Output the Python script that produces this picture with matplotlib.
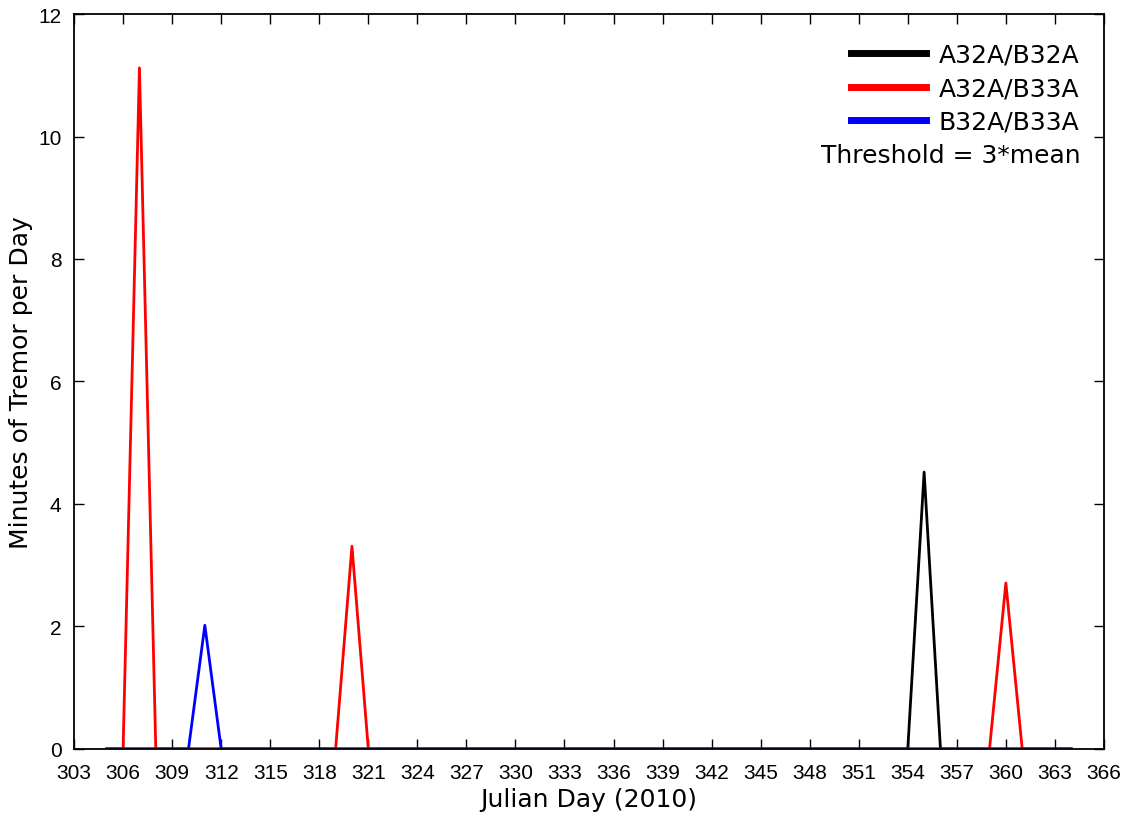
import matplotlib
matplotlib.use('Agg')
import matplotlib.pyplot as plt
import numpy as np

# 日期 (Julian Day 2010)
days = np.arange(305, 365)

# 各台站对的震颤分钟数 (只有峰值非零)
peaks_a32a_b32a = {355: 4.52}
peaks_a32a_b33a = {307: 11.12, 320: 3.31, 360: 2.71}
peaks_b32a_b33a = {311: 2.02}

series_labels = ["A32A/B32A", "A32A/B33A", "B32A/B33A"]
series_colors = ["black", "red", "blue"]

def build(peaks):
    return np.array([peaks.get(int(d), 0.0) for d in days])

series_values = [build(peaks_a32a_b32a), build(peaks_a32a_b33a), build(peaks_b32a_b33a)]

fig = plt.figure(figsize=(11.34, 8.2), dpi=100)
ax = fig.add_axes([0.0653, 0.0854, 0.9082, 0.8963])

for vals, lab, col in zip(series_values, series_labels, series_colors):
    ax.plot(days, vals, color=col, lw=2, label=lab)

ax.set_xlim(303, 366)
ax.set_ylim(0, 12)
ax.set_xticks(np.arange(303, 367, 3))
ax.set_yticks(np.arange(0, 13, 2))
ax.tick_params(direction='in', top=True, right=True, length=7, width=1,
               labelsize=15)
ax.tick_params(axis='x', pad=10)
ax.tick_params(axis='y', pad=9)
for lbl in ax.get_xticklabels() + ax.get_yticklabels():
    lbl.set_family('Liberation Sans')
for sp in ax.spines.values():
    sp.set_linewidth(1.3)

ax.set_xlabel("Julian Day (2010)", fontsize=18, labelpad=4)
ax.set_ylabel("Minutes of Tremor per Day", fontsize=18, labelpad=4)

leg = ax.legend(loc='upper right', bbox_to_anchor=(1.004, 1.0), frameon=False,
                fontsize=18, handlelength=3.0, handletextpad=0.5,
                labelspacing=0.38, borderaxespad=0.75)
for h in leg.get_lines():
    h.set_linewidth(5)

ax.text(0.977, 0.8085, "Threshold = 3*mean", transform=ax.transAxes,
        ha='right', va='center', fontsize=18)

fig.savefig("out.png", dpi=100)
